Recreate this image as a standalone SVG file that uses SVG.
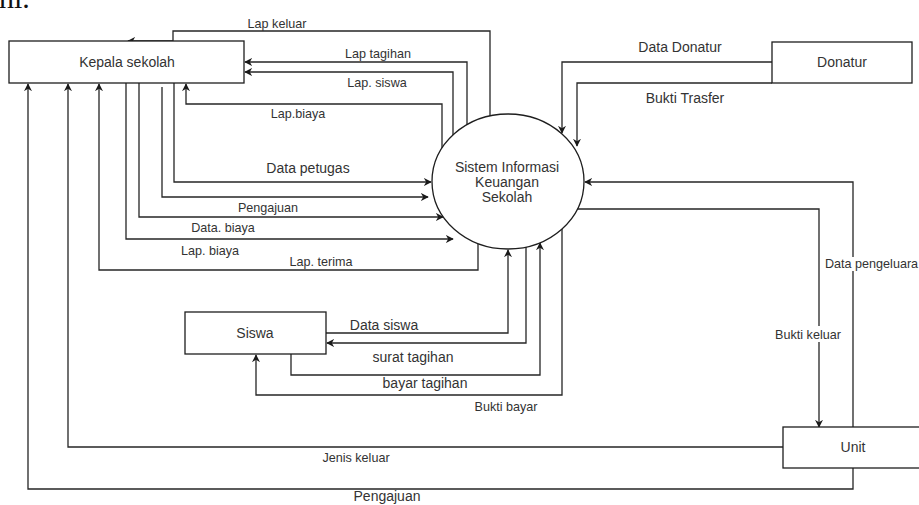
<svg xmlns="http://www.w3.org/2000/svg" width="919" height="505" viewBox="0 0 919 505">
  <style>
    .node { fill: #ffffff; stroke: #1e1e1e; stroke-width: 1.3; }
    .flow { fill: none; stroke: #262626; stroke-width: 1.3; }
    .arr { marker-end: url(#head); }
    .t { font-family: "Liberation Sans", Arial, sans-serif; fill: #333333; text-anchor: middle; }
    .n { font-size: 14px; }
    .s { font-size: 12.6px; }
    .bg { fill: #ffffff; stroke: none; }
  </style>
  <defs>
    <marker id="head" viewBox="0 0 10 10" refX="9" refY="5" markerWidth="8" markerHeight="8" markerUnits="userSpaceOnUse" orient="auto">
      <path d="M0,0 L10,5 L0,10 L3,5 Z" fill="#1a1a1a"/>
    </marker>
  </defs>
  <rect width="919" height="505" fill="#ffffff"/>

  <!-- text running off the top edge -->
  <text x="-1" y="8" font-family="Liberation Serif, serif" font-size="30" fill="#111">ni.</text>

  <g id="connectors">
    <!-- Sistem -> Kepala sekolah -->
    <path class="flow arr" d="M490,116 V31 H173 V41 H128"/>
    <path class="flow arr" d="M467,125 V62 H245"/>
    <path class="flow arr" d="M453,135 V72 H245"/>
    <path class="flow arr" d="M442,148 V104 H186 V84"/>
    <path class="flow arr" d="M478,244 V270 H99 V84"/>
    <!-- Kepala sekolah -> Sistem -->
    <path class="flow arr" d="M174,83 V182 H431"/>
    <path class="flow arr" d="M162,87 V197 H428"/>
    <path class="flow arr" d="M139,83 V217 H443"/>
    <path class="flow arr" d="M126,83 V239 H453"/>
    <!-- Donatur -> Sistem -->
    <path class="flow arr" d="M772,62 H562 V133"/>
    <path class="flow arr" d="M772,83 H577 V146"/>
    <!-- Unit <-> Sistem -->
    <path class="flow arr" d="M853,427 V182 H585"/>
    <path class="flow arr" d="M577,209 H819 V427"/>
    <!-- Unit -> Kepala sekolah -->
    <path class="flow arr" d="M783,447 H68 V84"/>
    <path class="flow arr" d="M853,468 V489 H28 V84"/>
    <!-- Siswa <-> Sistem -->
    <path class="flow arr" d="M326,333 H508 V250"/>
    <path class="flow arr" d="M526,247 V343 H327"/>
    <path class="flow arr" d="M291,354 V375 H540 V243"/>
    <path class="flow arr" d="M562,229 V395 H256 V355"/>

    <!-- flow labels -->
    <text class="t s" x="277" y="27.5">Lap keluar</text>
    <text class="t s" x="378" y="57.5">Lap tagihan</text>
    <text class="t s" x="377" y="86.5">Lap. siswa</text>
    <text class="t s" x="298" y="117.5">Lap.biaya</text>
    <text class="t n" x="308" y="173">Data petugas</text>
    <text class="t s" x="268" y="211.5">Pengajuan</text>
    <text class="t s" x="223" y="231.5">Data. biaya</text>
    <text class="t s" x="210" y="254.5">Lap. biaya</text>
    <text class="t s" x="321" y="265.5">Lap. terima</text>
    <text class="t n" x="680" y="52">Data Donatur</text>
    <text class="t n" x="685" y="103">Bukti Trasfer</text>
    <text class="t n" x="384" y="330">Data siswa</text>
    <text class="t n" x="413" y="362">surat tagihan</text>
    <text class="t n" x="425" y="388">bayar tagihan</text>
    <text class="t s" x="506" y="410.5">Bukti bayar</text>
    <text class="t s" x="356" y="461.5">Jenis keluar</text>
    <text class="t n" x="387" y="501">Pengajuan</text>
    <rect class="bg" x="775" y="326" width="66" height="16"/>
    <text class="t s" x="808" y="338.5">Bukti keluar</text>
    <rect class="bg" x="824" y="257" width="95" height="14"/>
    <text class="t s" x="825" y="267.5" style="text-anchor:start">Data pengeluara</text>
  </g>

  <g id="kepala-sekolah">
    <rect class="node" x="9" y="41" width="235" height="42"/>
    <text class="t n" x="127" y="67">Kepala sekolah</text>
  </g>

  <g id="sistem">
    <ellipse class="node" cx="508" cy="181.5" rx="76" ry="67.5"/>
    <text class="t n" x="507" y="172">Sistem Informasi</text>
    <text class="t n" x="507" y="187">Keuangan</text>
    <text class="t n" x="507" y="202">Sekolah</text>
  </g>

  <g id="donatur">
    <rect class="node" x="772" y="42" width="140" height="41"/>
    <text class="t n" x="842" y="67">Donatur</text>
  </g>

  <g id="siswa">
    <rect class="node" x="185" y="312" width="141" height="42"/>
    <text class="t n" x="255" y="338">Siswa</text>
  </g>

  <g id="unit">
    <rect class="node" x="783" y="427" width="140" height="41"/>
    <text class="t n" x="853" y="452">Unit</text>
  </g>
</svg>
